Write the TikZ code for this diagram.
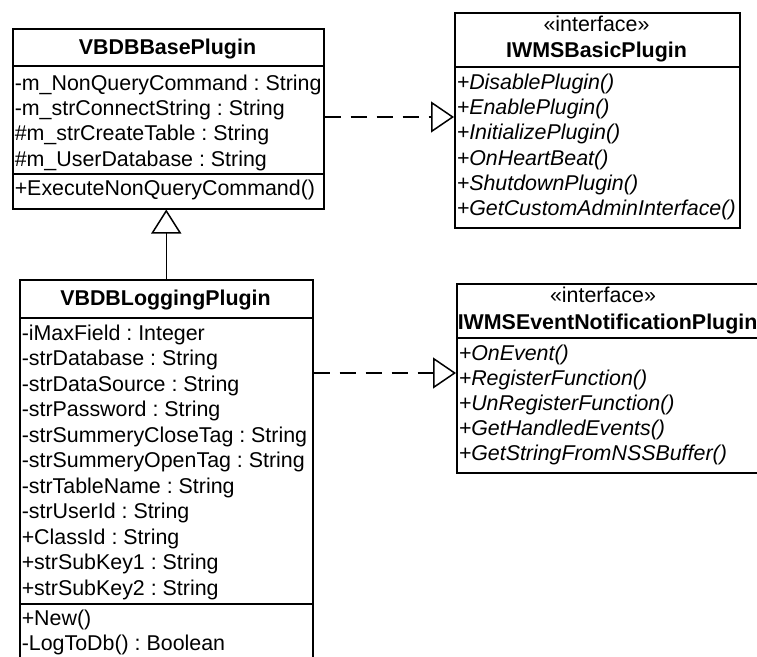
\documentclass[tikz,border=0pt]{standalone}
\usepackage{fontspec}
\setmainfont{Liberation Sans}
\usepackage{tikz}
\usetikzlibrary{arrows.meta}
\frenchspacing

\begin{document}
\begin{tikzpicture}[x=1pt, y=-1pt, line width=1.5pt,
    classbox/.style={draw, rectangle, anchor=north west, inner sep=0pt},
    member/.style={anchor=base west, inner sep=0pt, font=\fontsize{21.4}{25}\selectfont},
    classname/.style={anchor=base, inner sep=0pt, font=\fontsize{21.4}{25}\selectfont\bfseries},
    realizes/.style={dash pattern=on 16pt off 10pt, -{Triangle[open, length=23pt, width=31pt]}},
    inherits/.style={-{Triangle[open, length=24pt, width=30pt]}}]
    \useasboundingbox (0,0) rectangle (757,656);
    \clip (0,0) rectangle (757,656);

    % Base class
    \node[classbox, minimum width=311pt, minimum height=180pt] (base) at (12,28) {};
    \node[classname] (basetitle) at (167.5,54) {VBDBBasePlugin};
    \draw (12,66) -- ++(311,0);
    \draw (12,174) -- ++(311,0);
    \foreach \txt [count=\i from 0] in {-m\_NonQueryCommand : String, -m\_strConnectString : String,
        \#m\_strCreateTable : String, \#m\_UserDatabase : String} {
        \node[member] at (14,{90+25.4*\i}) {\txt};
    }
    \node[member] at (14,195) {+ExecuteNonQueryCommand()};

    % Basic plugin interface
    \node[classbox, minimum width=285pt, minimum height=215pt] (basic) at (454,12) {};
    \node[classname, font=\fontsize{21.4}{25}\selectfont] at (596.5,31) {«interface»};
    \node[classname] (basictitle) at (596.5,57) {IWMSBasicPlugin};
    \draw (454,67) -- ++(285,0);
    \foreach \txt [count=\i from 0] in {+DisablePlugin(), +EnablePlugin(), +InitializePlugin(),
        +OnHeartBeat(), +ShutdownPlugin(), +GetCustomAdminInterface()} {
        \node[member, font=\fontsize{21.4}{25}\selectfont\itshape] at (456,{89.5+25.2*\i}) {\txt};
    }

    % Logging plugin class
    \node[classbox, minimum width=293pt, minimum height=420pt] (logging) at (19,279) {};
    \node[classname] (loggingtitle) at (165.5,305) {VBDBLoggingPlugin};
    \draw (19,318) -- ++(293,0);
    \draw (19,604) -- ++(293,0);
    \foreach \txt [count=\i from 0] in {-iMaxField : Integer, -strDatabase : String,
        -strDataSource : String, -strPassword : String, -strSummeryCloseTag : String,
        -strSummeryOpenTag : String, -strTableName : String, -strUserId : String,
        +ClassId : String, +strSubKey1 : String, +strSubKey2 : String} {
        \node[member] at (21,{340+25.5*\i}) {\txt};
    }
    \foreach \txt [count=\i from 0] in {+New(), -LogToDb() : Boolean} {
        \node[member] at (21,{625+25.5*\i}) {\txt};
    }

    % Event notification interface
    \node[classbox, minimum width=320pt, minimum height=189pt] (event) at (456,283) {};
    \node[classname, font=\fontsize{21.4}{25}\selectfont] at (603,302.5) {«interface»};
    \node[classname, anchor=base west] (eventtitle) at (457,329) {IWMSEventNotificationPlugin};
    \draw (456,338) -- ++(320,0);
    \foreach \txt [count=\i from 0] in {+OnEvent(), +RegisterFunction(), +UnRegisterFunction(),
        +GetHandledEvents(), +GetStringFromNSSBuffer()} {
        \node[member, font=\fontsize{21.4}{25}\selectfont\itshape] at (458,{360+25.2*\i}) {\txt};
    }

    % Relations
    \coordinate (r1) at (0,117);
    \coordinate (r2) at (0,373);
    \draw[realizes] (base.east |- r1) -- (basic.west |- r1);
    \draw[realizes] (logging.east |- r2) -- (event.west |- r2);
    \draw[inherits] (logging.north) -- (logging.north |- base.south);
\end{tikzpicture}
\end{document}
